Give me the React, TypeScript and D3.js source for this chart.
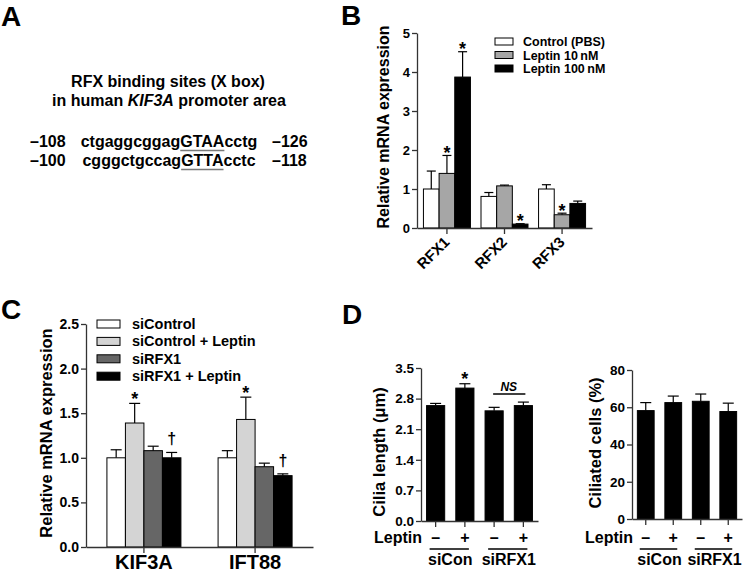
import React, { useEffect, useRef } from "react";
import * as d3 from "d3";

const FONT = "'Liberation Sans', Arial, Helvetica, sans-serif";

// panel A
const aStart = ["\u2013108", "\u2013100"];
const aPre = ["ctgaggcggag", "cgggctgccag"];
const aCore = ["GTAA", "GTTA"];
const aPost = ["cctg", "cctc"];
const aEnd = ["\u2013126", "\u2013118"];

// panel B
const bGenes = ["RFX1", "RFX2", "RFX3"];
const bGroups = ["Control (PBS)", "Leptin 10\u2009nM", "Leptin 100\u2009nM"];
const bColors = ["#ffffff", "#a6a6a6", "#000000"];
const bMeans = [[1.0, 1.4, 3.87], [0.81, 1.08, 0.1], [1.0, 0.34, 0.63]];
const bSem = [[0.46, 0.46, 0.65], [0.1, 0.02, 0.01], [0.11, 0.04, 0.06]];
const bStars = [[false, true, true], [false, false, true], [false, true, false]];
const bTicks = [0, 1, 2, 3, 4, 5];

// panel C
const cGenes = ["KIF3A", "IFT88"];
const cGroups = ["siControl", "siControl + Leptin", "siRFX1", "siRFX1 + Leptin"];
const cColors = ["#ffffff", "#d4d4d4", "#666666", "#000000"];
const cMeans = [[1.0, 1.39, 1.08, 1.0], [1.0, 1.43, 0.9, 0.8]];
const cSem = [[0.09, 0.22, 0.05, 0.06], [0.08, 0.25, 0.04, 0.02]];
const cMarks = [["", "*", "", "\u2020"], ["", "*", "", "\u2020"]];
const cTicks = [0, 0.5, 1, 1.5, 2, 2.5];

// panel D
const dLeptin = ["\u2013", "+", "\u2013", "+"];
const dSiRNA = ["siCon", "siRFX1"];
const dLength = [2.64, 3.04, 2.52, 2.64];
const dLengthSem = [0.05, 0.1, 0.08, 0.08];
const dLengthStars = [false, true, false, false];
const dLengthTicks = [0, 0.7, 1.4, 2.1, 2.8, 3.5];
const dCiliated = [58.2, 62.5, 63.2, 57.7];
const dCiliatedSem = [4.3, 3.5, 3.9, 4.5];
const dCiliatedTicks = [0, 20, 40, 60, 80];

const AXIS = "#333";

const YAxis = ({ scale, x, ticks, fmt, size }) => {
  const ref = useRef(null);
  useEffect(() => {
    const g = d3.select(ref.current);
    g.call(d3.axisLeft(scale).tickValues(ticks).tickFormat(fmt).tickSize(5).tickPadding(2).tickSizeOuter(0));
    g.attr("font-family", FONT);
    g.select(".domain").attr("stroke", AXIS).attr("stroke-width", 1.3);
    g.selectAll(".tick line").attr("stroke", AXIS).attr("stroke-width", 1.3);
    g.selectAll(".tick text")
      .attr("font-weight", "bold")
      .attr("font-size", size)
      .attr("fill", "#000");
  }, [scale]);
  return <g ref={ref} transform={`translate(${x},0)`} />;
};

const XAxis = ({ scale, y, labels, size }) => {
  const ref = useRef(null);
  useEffect(() => {
    const g = d3.select(ref.current);
    g.call(
      d3.axisBottom(scale).tickSize(6).tickPadding(2).tickSizeOuter(0)
        .tickFormat((d) => (labels ? d : ""))
    );
    g.attr("font-family", FONT);
    g.select(".domain").attr("stroke", AXIS).attr("stroke-width", 1.3);
    g.selectAll(".tick line").attr("stroke", AXIS).attr("stroke-width", 1.3);
    g.selectAll(".tick text")
      .attr("font-weight", "bold")
      .attr("font-size", size || 12)
      .attr("fill", "#000");
  }, [scale]);
  return <g ref={ref} transform={`translate(0,${y})`} />;
};

const Bar = ({ cx, w, y, mean, sem, fill, cap }) => (
  <g>
    <line x1={cx} x2={cx} y1={y(mean)} y2={y(mean + sem)} stroke="#000" strokeWidth={1.2} />
    <line x1={cx - cap} x2={cx + cap} y1={y(mean + sem)} y2={y(mean + sem)} stroke="#000" strokeWidth={1.2} />
    <rect x={cx - w / 2} y={y(mean)} width={w} height={y(0) - y(mean)} fill={fill} stroke="#000" strokeWidth={1} />
  </g>
);

const SeqRow = ({ i, y }) => {
  const ref = useRef(null);
  const lineRef = useRef(null);
  useEffect(() => {
    const t = ref.current;
    const k = aPre[i].length;
    const x0 = t.getStartPositionOfChar(k).x;
    const x1 = t.getEndPositionOfChar(k + aCore[i].length - 1).x;
    d3.select(lineRef.current).attr("x1", x0).attr("x2", x1);
  }, [i]);
  return (
    <g fontSize={16} fontWeight="bold">
      <text x={30} y={y}>{aStart[i]}</text>
      <text ref={ref} x={169} y={y} textAnchor="middle">{aPre[i] + aCore[i] + aPost[i]}</text>
      <text x={272} y={y}>{aEnd[i]}</text>
      <line ref={lineRef} y1={y + 3.5} y2={y + 3.5} stroke="#7a7a7a" strokeWidth={1.6} />
    </g>
  );
};

// scales
const bY = d3.scaleLinear().domain([0, 5]).range([228, 33]);
const bX = d3.scaleBand().domain(bGenes).range([417, 592]).paddingInner(0).paddingOuter(0.02);
const bInner = d3.scaleBand().domain(bGroups).range([-23.5, 23.5]);

const cY = d3.scaleLinear().domain([0, 2.5]).range([547, 324]);
const cX = d3.scaleBand().domain(cGenes).range([86, 313]).paddingInner(0).paddingOuter(0.021);
const cInner = d3.scaleBand().domain(cGroups).range([-37, 37]);

const dIdx = dLength.map((_, i) => i);
const dLY = d3.scaleLinear().domain([0, 3.5]).range([521, 368]);
const dLX = d3.scaleBand().domain(dIdx).range([421, 538]).paddingInner(0.38).paddingOuter(0.19);
const dRY = d3.scaleLinear().domain([0, 80]).range([519, 370]);
const dRX = d3.scaleBand().domain(dIdx).range([632, 742]).paddingInner(0.39).paddingOuter(0.195);

const DGroupLabels = ({ x, leptinX }) => {
  const c = (i) => x(i) + x.bandwidth() / 2;
  return (
    <g fontWeight="bold" fontSize={16}>
      <text x={leptinX} y={543} textAnchor="end">Leptin</text>
      {dLeptin.map((s, i) => (
        <text key={i} x={c(i)} y={543} textAnchor="middle">{s}</text>
      ))}
      {dSiRNA.map((s, j) => (
        <g key={s}>
          <line x1={c(2 * j) - 6} x2={c(2 * j + 1) + 4} y1={549} y2={549} stroke="#000" strokeWidth={1.5} />
          <text x={(c(2 * j) + c(2 * j + 1)) / 2} y={565} textAnchor="middle">{s}</text>
        </g>
      ))}
    </g>
  );
};

export default function App() {
  const bc = (g) => bX(g) + bX.bandwidth() / 2;
  const cc = (g) => cX(g) + cX.bandwidth() / 2;
  const dlc = (i) => dLX(i) + dLX.bandwidth() / 2;
  const drc = (i) => dRX(i) + dRX.bandwidth() / 2;
  return (
    <svg width={745} height={576} style={{ position: "absolute", left: 0, top: 0, background: "#fff" }} fontFamily={FONT}>
      <rect width={745} height={576} fill="#fff" />
      {/* panel letters */}
      <g fontWeight="bold" fontSize={28}>
        <text x={1} y={26}>A</text>
        <text x={341} y={25}>B</text>
        <text x={1} y={319}>C</text>
        <text x={342} y={324}>D</text>
      </g>

      {/* A */}
      <g fontWeight="bold" fontSize={16} textAnchor="middle">
        <text x={168} y={87}>RFX binding sites (X box)</text>
        <text x={169} y={106}>
          in human <tspan fontStyle="italic">KIF3A</tspan> promoter area
        </text>
      </g>
      <SeqRow i={0} y={147} />
      <SeqRow i={1} y={166} />

      {/* B */}
      {bGenes.map((g, gi) =>
        bGroups.map((s, si) => {
          const cx = bc(g) + bInner(s) + bInner.bandwidth() / 2;
          const top = bY(bMeans[gi][si] + bSem[gi][si]);
          return (
            <g key={g + s}>
              <Bar cx={cx} w={bInner.bandwidth()} y={bY} mean={bMeans[gi][si]} sem={bSem[gi][si]} fill={bColors[si]} cap={4.5} />
              {bStars[gi][si] && (
                <text x={cx} y={top + 3.5} textAnchor="middle" fontSize={18} fontWeight="bold">*</text>
              )}
            </g>
          );
        })
      )}
      <YAxis scale={bY} x={417} ticks={bTicks} fmt={d3.format("d")} size={13} />
      <XAxis scale={bX} y={228} />
      {bGenes.map((g) => (
        <text key={g} transform={`translate(${bc(g) + 3.5},243) rotate(-45)`} textAnchor="end" fontSize={15} fontWeight="bold">{g}</text>
      ))}
      <text transform="translate(389,127) rotate(-90)" textAnchor="middle" fontSize={16} fontWeight="bold">Relative mRNA expression</text>
      {bGroups.map((s, i) => (
        <g key={s} transform={`translate(495,${41.5 + i * 13.5})`}>
          <rect x={0} y={-3.5} width={18} height={7} fill={bColors[i]} stroke="#000" strokeWidth={1} />
          <text x={28} y={4.5} fontSize={12.5} fontWeight="bold">{s}</text>
        </g>
      ))}

      {/* C */}
      {cGenes.map((g, gi) =>
        cGroups.map((s, si) => {
          const cx = cc(g) + cInner(s) + cInner.bandwidth() / 2;
          const top = cY(cMeans[gi][si] + cSem[gi][si]);
          const m = cMarks[gi][si];
          return (
            <g key={g + s}>
              <Bar cx={cx} w={cInner.bandwidth()} y={cY} mean={cMeans[gi][si]} sem={cSem[gi][si]} fill={cColors[si]} cap={5.5} />
              {m === "*" && (
                <text x={cx} y={top + 1.5} textAnchor="middle" fontSize={18} fontWeight="bold">*</text>
              )}
              {m === "\u2020" && (
                <text x={cx} y={top - 8} textAnchor="middle" fontSize={16} fontWeight="bold" fill="#000">{m}</text>
              )}
            </g>
          );
        })
      )}
      <YAxis scale={cY} x={86} ticks={cTicks} fmt={d3.format(".1f")} size={14} />
      <XAxis scale={cX} y={547} labels size={20} />
      <text transform="translate(52,433) rotate(-90)" textAnchor="middle" fontSize={16.5} fontWeight="bold">Relative mRNA expression</text>
      {cGroups.map((s, i) => (
        <g key={s} transform={`translate(97,${324 + i * 17.4})`}>
          <rect x={0} y={-4} width={23} height={8} fill={cColors[i]} stroke="#000" strokeWidth={1} />
          <text x={35} y={5} fontSize={14.5} fontWeight="bold">{s}</text>
        </g>
      ))}

      {/* D left */}
      {dLength.map((v, i) => (
        <g key={i}>
          <Bar cx={dlc(i)} w={dLX.bandwidth()} y={dLY} mean={v} sem={dLengthSem[i]} fill="#000" cap={5.5} />
          {dLengthStars[i] && (
            <text x={dlc(i)} y={dLY(v + dLengthSem[i]) + 1.5} textAnchor="middle" fontSize={18} fontWeight="bold">*</text>
          )}
        </g>
      ))}
      <line x1={dlc(2) - 1} x2={dlc(3) + 2} y1={394} y2={394} stroke="#000" strokeWidth={1.5} />
      <text x={(dlc(2) + dlc(3)) / 2} y={391} textAnchor="middle" fontSize={12} fontWeight="bold" fontStyle="italic">NS</text>
      <YAxis scale={dLY} x={421} ticks={dLengthTicks} fmt={d3.format(".1f")} size={13.5} />
      <XAxis scale={dLX} y={521} />
      <text transform="translate(385,452) rotate(-90)" textAnchor="middle" fontSize={16.5} fontWeight="bold">Cilia length (μm)</text>
      <DGroupLabels x={dLX} leptinX={422} />

      {/* D right */}
      {dCiliated.map((v, i) => (
        <Bar key={i} cx={drc(i)} w={dRX.bandwidth()} y={dRY} mean={v} sem={dCiliatedSem[i]} fill="#000" cap={5.5} />
      ))}
      <YAxis scale={dRY} x={632} ticks={dCiliatedTicks} fmt={d3.format("d")} size={13.5} />
      <XAxis scale={dRX} y={519} />
      <text transform="translate(601,443) rotate(-90)" textAnchor="middle" fontSize={16.5} fontWeight="bold">Ciliated cells (%)</text>
      <DGroupLabels x={dRX} leptinX={633} />
    </svg>
  );
}
